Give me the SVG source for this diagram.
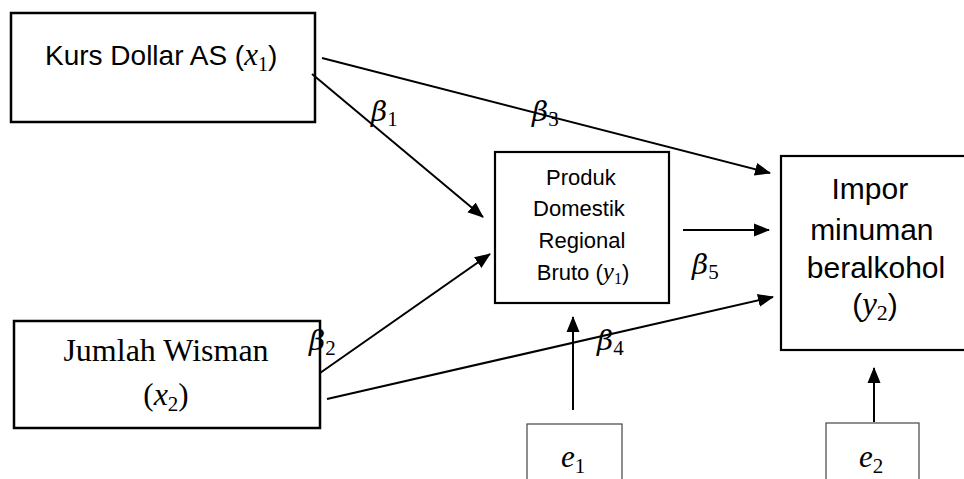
<svg xmlns="http://www.w3.org/2000/svg" width="964" height="479" viewBox="0 0 964 479">
<style>
.box{fill:#fff;stroke:#000;stroke-width:2.5}
.ebox{fill:#fff;stroke:#444;stroke-width:1.2}
.sans{font-family:"Liberation Sans",Arial,sans-serif;fill:#000}
.serif{font-family:"Liberation Serif","Times New Roman",serif;fill:#000}
.m{font-family:"Liberation Serif","DejaVu Serif",serif;font-style:italic;fill:#000}
.g{font-family:"DejaVu Serif","Liberation Serif",serif;font-style:italic;fill:#000}
.sub{font-style:normal}
.conn line{stroke:#000;stroke-width:2;marker-end:url(#ah)}
</style>
<defs>
<marker id="ah" markerUnits="userSpaceOnUse" markerWidth="16" markerHeight="14" viewBox="0 0 16 14" refX="15" refY="7" orient="auto">
<path d="M0,0.5 L16,7 L0,13.5 Z" fill="#000"/>
</marker>
</defs>
<rect width="964" height="479" fill="#fff"/>
<g id="kurs">
<rect class="box" x="11" y="13" width="304" height="109"/>
<text class="sans" x="45" y="65" font-size="28">Kurs Dollar AS (<tspan class="m" font-size="31">x</tspan><tspan class="m sub" font-size="20" dy="6">1</tspan><tspan dy="-6">)</tspan></text>
</g>
<g id="wisman">
<rect class="box" x="14" y="321" width="306" height="107"/>
<text class="serif" x="166" y="361" font-size="32" text-anchor="middle">Jumlah Wisman</text>
<text class="serif" x="166" y="405" font-size="31" text-anchor="middle">(<tspan class="m" font-size="32">x</tspan><tspan class="m sub" font-size="21" dy="6">2</tspan><tspan dy="-6">)</tspan></text>
</g>
<g id="pdrb">
<rect class="box" x="495" y="152" width="174" height="151" style="stroke-width:2.2"/>
<text class="sans" font-size="22" text-anchor="middle">
<tspan x="584" y="185">Produk</tspan>
<tspan x="582" y="216">Domestik</tspan>
<tspan x="582" y="248">Regional</tspan>
</text>
<text class="sans" x="583" y="280" font-size="22" text-anchor="middle">Bruto (<tspan class="m" font-size="25">y</tspan><tspan class="m sub" font-size="16" dy="4">1</tspan><tspan dy="-4">)</tspan></text>
</g>
<g id="impor">
<rect class="box" x="781" y="156" width="200" height="194" style="stroke-width:2.2"/>
<text class="sans" font-size="30" text-anchor="middle">
<tspan x="874" y="199">Impor</tspan>
<tspan x="876" y="240">minuman</tspan>
<tspan x="876" y="278">beralkohol</tspan>
</text>
<text class="sans" x="875" y="315" font-size="30" text-anchor="middle">(<tspan class="m" font-size="33">y</tspan><tspan class="m sub" font-size="22" dy="5">2</tspan><tspan dy="-5">)</tspan></text>
</g>
<g id="e1">
<rect class="ebox" x="527" y="424" width="95" height="70"/>
<text class="m" x="561" y="467" font-size="31">e<tspan class="sub" font-size="21" dy="6">1</tspan></text>
</g>
<g id="e2">
<rect class="ebox" x="826" y="423" width="93" height="70"/>
<text class="m" x="859" y="467" font-size="31">e<tspan class="sub" font-size="21" dy="6">2</tspan></text>
</g>
<g id="connectors" class="conn">
<line x1="312" y1="74" x2="483" y2="217"/>
<line x1="322" y1="58" x2="770" y2="173"/>
<line x1="320" y1="373" x2="490" y2="254"/>
<line x1="327" y1="399" x2="773" y2="297"/>
<line x1="683" y1="230" x2="769" y2="230"/>
<line x1="573" y1="410" x2="573" y2="317"/>
<line x1="874" y1="422" x2="874" y2="368"/>
</g>
<g id="labels">
<text class="g" x="371" y="121" font-size="28">β<tspan class="m sub" font-size="21" dy="5">1</tspan></text>
<text class="g" x="532" y="121" font-size="28">β<tspan class="m sub" font-size="21" dy="5">3</tspan></text>
<text class="g" x="309" y="350" font-size="28">β<tspan class="m sub" font-size="21" dy="5">2</tspan></text>
<text class="g" x="597" y="350" font-size="28">β<tspan class="m sub" font-size="21" dy="5">4</tspan></text>
<text class="g" x="692" y="274" font-size="28">β<tspan class="m sub" font-size="21" dy="5">5</tspan></text>
</g>
</svg>
